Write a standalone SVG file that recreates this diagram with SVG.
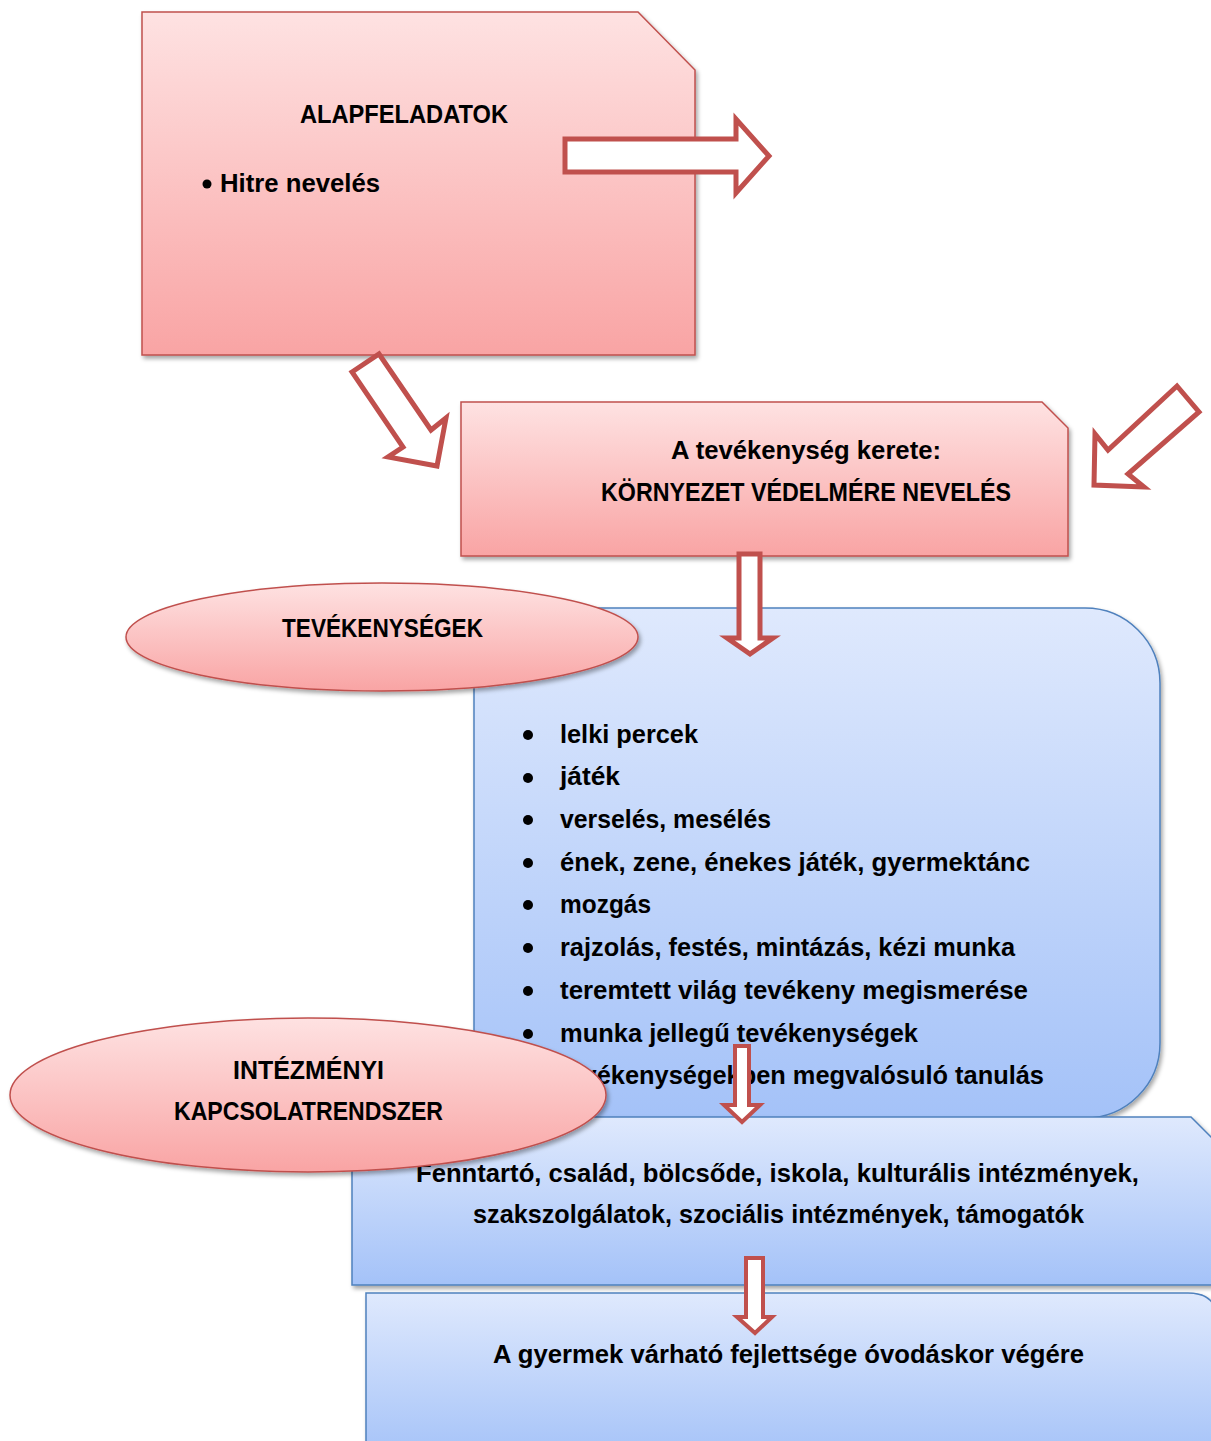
<svg xmlns="http://www.w3.org/2000/svg" width="1211" height="1441" viewBox="0 0 1211 1441">
<defs>
<linearGradient id="pink" x1="0" y1="0" x2="0" y2="1"><stop offset="0" stop-color="#fee2e2"/><stop offset="1" stop-color="#f9a4a4"/></linearGradient>
<linearGradient id="blue" x1="0" y1="0" x2="0" y2="1"><stop offset="0" stop-color="#dfe9fd"/><stop offset="1" stop-color="#a4c2f8"/></linearGradient>
<filter id="sh" x="-10%" y="-10%" width="120%" height="130%"><feDropShadow dx="2" dy="3" stdDeviation="2" flood-color="#000" flood-opacity="0.35"/></filter>
</defs>
<style>
.pk{fill:url(#pink);stroke:#c0504d;stroke-width:1.5;filter:url(#sh)}
.bl{fill:url(#blue);stroke:#4f81bd;stroke-width:1.5;filter:url(#sh)}
.ar{fill:#fff;stroke:#c0504d;stroke-width:5;stroke-linejoin:miter}
.t{font-family:"Liberation Sans",Arial,sans-serif;font-weight:bold;font-size:25px;fill:#000}
.b{font-family:"Liberation Sans",Arial,sans-serif;font-weight:bold;font-size:26px;fill:#000}
</style>
<rect width="1211" height="1441" fill="#fff"/>

<g id="alapfeladatok">
<path class="pk" d="M142,12 H638 L695,70 V355 H142 Z"/>
<text class="t" x="300" y="123" textLength="208" lengthAdjust="spacingAndGlyphs">ALAPFELADATOK</text>
<circle cx="207" cy="184" r="4.5" fill="#000"/>
<text class="t" x="220" y="192" textLength="160" lengthAdjust="spacingAndGlyphs">Hitre nevelés</text>
</g>

<g id="keret">
<path class="pk" d="M461,402 H1042 L1068,428 V556 H461 Z"/>
<text class="t" x="671" y="459" textLength="270" lengthAdjust="spacingAndGlyphs">A tevékenység kerete:</text>
<text class="t" x="601" y="501" textLength="410" lengthAdjust="spacingAndGlyphs">KÖRNYEZET VÉDELMÉRE NEVELÉS</text>
</g>

<g id="tevekenysegek-lista">
<rect class="bl" x="474" y="608" width="686" height="510" rx="75" ry="75"/>
<g fill="#000">
<circle cx="528" cy="735" r="5"/><circle cx="528" cy="778" r="5"/><circle cx="528" cy="820" r="5"/>
<circle cx="528" cy="863" r="5"/><circle cx="528" cy="905" r="5"/><circle cx="528" cy="948" r="5"/>
<circle cx="528" cy="991" r="5"/><circle cx="528" cy="1034" r="5"/><circle cx="528" cy="1076" r="5"/>
</g>
<text class="b" x="560" y="743" textLength="138" lengthAdjust="spacingAndGlyphs">lelki percek</text>
<text class="b" x="560" y="785" textLength="60" lengthAdjust="spacingAndGlyphs">játék</text>
<text class="b" x="560" y="828" textLength="211" lengthAdjust="spacingAndGlyphs">verselés, mesélés</text>
<text class="b" x="560" y="871" textLength="470" lengthAdjust="spacingAndGlyphs">ének, zene, énekes játék, gyermektánc</text>
<text class="b" x="560" y="913" textLength="91" lengthAdjust="spacingAndGlyphs">mozgás</text>
<text class="b" x="560" y="956" textLength="455" lengthAdjust="spacingAndGlyphs">rajzolás, festés, mintázás, kézi munka</text>
<text class="b" x="560" y="999" textLength="468" lengthAdjust="spacingAndGlyphs">teremtett világ tevékeny megismerése</text>
<text class="b" x="560" y="1042" textLength="358" lengthAdjust="spacingAndGlyphs">munka jellegű tevékenységek</text>
<text class="b" x="560" y="1084" textLength="484" lengthAdjust="spacingAndGlyphs">tevékenységekben megvalósuló tanulás</text>
</g>

<g id="tevekenysegek">
<ellipse class="pk" cx="382" cy="637" rx="256" ry="54"/>
<text class="t" x="282" y="637" textLength="201" lengthAdjust="spacingAndGlyphs">TEVÉKENYSÉGEK</text>
</g>

<g id="kapcsolatok">
<path class="bl" d="M352,1117 H1191 L1235,1161 V1285 H352 Z"/>
<text class="b" x="416" y="1182" textLength="723" lengthAdjust="spacingAndGlyphs">Fenntartó, család, bölcsőde,  iskola, kulturális intézmények,</text>
<text class="b" x="473" y="1223" textLength="611" lengthAdjust="spacingAndGlyphs">szakszolgálatok, szociális intézmények, támogatók</text>
</g>

<g id="intezmenyi">
<ellipse class="pk" cx="308" cy="1095" rx="298" ry="77"/>
<text class="t" x="233" y="1079" textLength="151" lengthAdjust="spacingAndGlyphs">INTÉZMÉNYI</text>
<text class="t" x="174" y="1120" textLength="269" lengthAdjust="spacingAndGlyphs">KAPCSOLATRENDSZER</text>
</g>

<g id="fejlettseg">
<path class="bl" d="M366,1293 H1188 Q1218,1293 1218,1323 V1460 H366 Z"/>
<text class="b" x="493" y="1363" textLength="591" lengthAdjust="spacingAndGlyphs">A gyermek várható fejlettsége óvodáskor végére</text>
</g>

<g id="connectors">
<polygon class="ar" points="565,139 736,139 736,119 769,156 736,193 736,172 565,172"/>
<polygon class="ar" points="352,372 379,354 431,430 446,418 437,466 388,457 403,447"/>
<polygon class="ar" points="1177,386 1199,412 1128,474 1144,487 1094,485 1095,434 1108,450"/>
<polygon class="ar" points="739,554 760,554 760,638 773,638 750,654 727,638 739,638"/>
<polygon class="ar" style="stroke-width:4" points="735,1046 749,1046 749,1105 760,1105 742,1122 724,1105 735,1105"/>
<polygon class="ar" style="stroke-width:4" points="746,1258 763,1258 763,1317 772,1317 755,1333 737,1317 746,1317"/>
</g>
</svg>
